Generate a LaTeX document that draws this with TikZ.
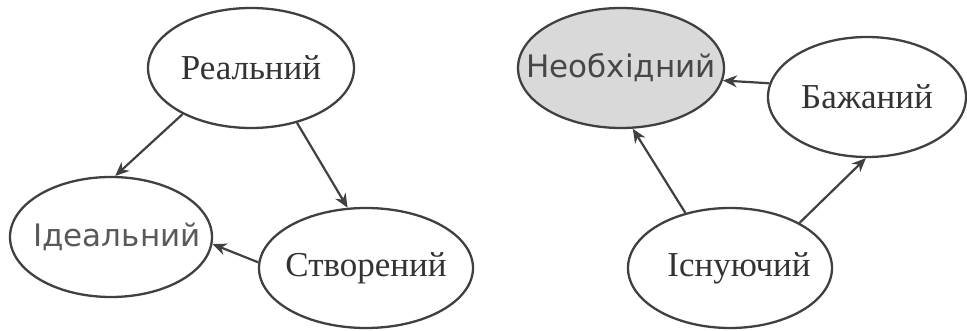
\documentclass[tikz,border=0pt]{standalone}
\usepackage{fontspec}
\setmainfont{Liberation Serif}
\newfontfamily\sansuk{DejaVu Sans}
\usetikzlibrary{shapes.geometric,arrows.meta}
\begin{document}
\begin{tikzpicture}[x=1pt,y=-1pt,
  ell/.style={ellipse,draw=black!75,line width=2.3pt,inner sep=0pt,minimum width=#1,minimum height=120pt,text=black!80,font=\fontsize{35}{38}\selectfont},
  ell/.default=206pt,
  sanslab/.style={},
  conn/.style={draw=black!75,line width=2.2pt,-{Stealth[length=14pt,width=12pt]}}]
\useasboundingbox (0,0) rectangle (967,331);
% left graph
\node[ell=206pt] (R) at (251,68) {\makebox[0pt]{Реальний}};
\node[ell=202pt] (I) at (111,237) {\makebox[0pt]{\hspace{12pt}\sansuk\fontsize{31}{34}\selectfont\color{black!65}Ідеальний}};
\node[ell=214pt] (S) at (366,268) {\makebox[0pt]{Створений}};
\draw[conn] (R.214) -- (I.86);
\draw[conn] (R.310) -- (S.107);
\draw[conn] (S.177) -- (I.356);
% right graph
\node[ell=206pt,fill=black!15] (N) at (621,68) {\makebox[0pt]{\sansuk\fontsize{31}{34}\selectfont\color{black!72}Необхідний}};
\node[ell=198pt] (B) at (867,97) {\makebox[0pt]{Бажаний}};
\node[ell=204pt] (E) at (730,268) {\makebox[0pt]{\hspace{18pt}Існуючий}};
\draw[conn] (B.172) -- (N.353);
\draw[conn] (E.129) -- (N.281);
\draw[conn] (E.33) -- (B.269);
\end{tikzpicture}
\end{document}
